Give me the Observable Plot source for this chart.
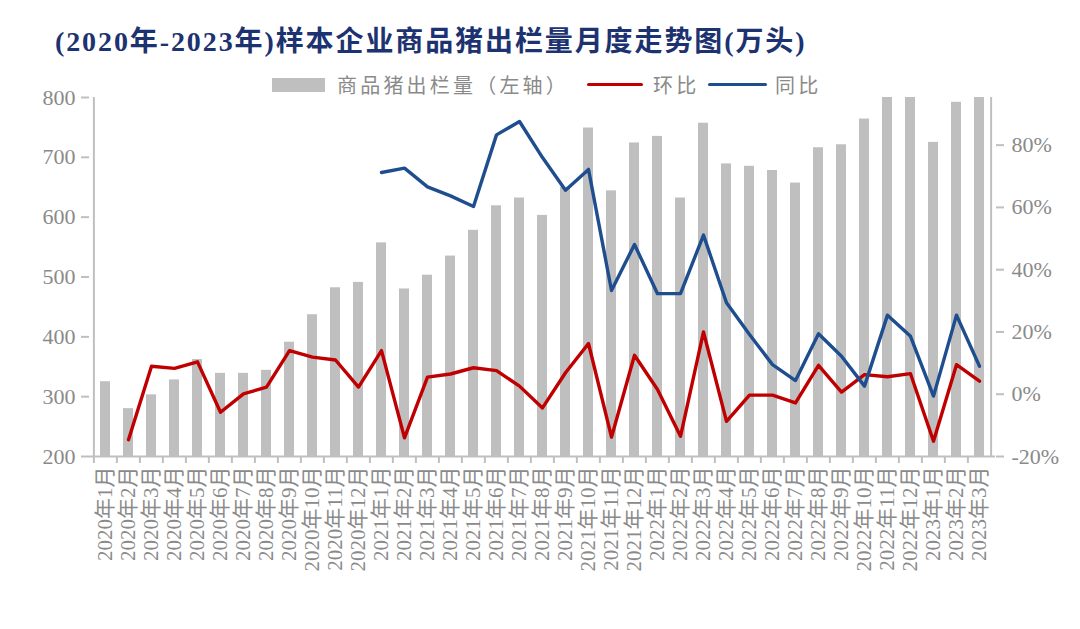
<!DOCTYPE html>
<html>
<head>
<meta charset="utf-8">
<script src="https://cdn.jsdelivr.net/npm/d3@7"></script>
<script src="https://cdn.jsdelivr.net/npm/@observablehq/plot@0.6"></script>
<style>
  html, body { margin: 0; padding: 0; background: #ffffff; }
  #wrap { position: relative; width: 1080px; height: 629px; overflow: hidden; }
  #header { position: relative; width: 1080px; height: 90px; }
  #title { position: absolute; left: 55px; top: 19px; white-space: nowrap;
    font-family: "Liberation Serif", "Times New Roman", "Noto Sans CJK SC", serif; font-weight: bold;
    font-size: 28px; letter-spacing: 1.9px; color: #1d3270; }
  #title .lat { font-family: "Liberation Serif", "DejaVu Serif", serif; }
  .lg { position: absolute; white-space: nowrap; font-family: "Noto Sans CJK SC", sans-serif;
    font-size: 20px; letter-spacing: 3.2px; color: #8a8a8a; top: 71px; line-height: 28px; }
  .sw { position: absolute; }
</style>
</head>
<body>
<div id="wrap">
  <div id="header">
    <div id="title"><span class="lat">(2020</span>年<span class="lat">-2023</span>年<span class="lat">)</span>样本企业商品猪出栏量月度走势图<span class="lat">(</span>万头<span class="lat">)</span></div>
    <div class="sw" style="left:272px;top:78px;width:53px;height:14px;background:#bfbfbf"></div>
    <div class="lg" style="left:337px">商品猪出栏量（左轴）</div>
    <div class="sw" style="left:587px;top:83px;width:56px;height:3px;background:#c00000;border-radius:2px"></div>
    <div class="lg" style="left:653px">环比</div>
    <div class="sw" style="left:708px;top:83px;width:59px;height:3px;background:#1f4e8f;border-radius:2px"></div>
    <div class="lg" style="left:775px">同比</div>
  </div>
  <div id="chart"></div>
</div>
<script>
// Categories (months)
const months = [
  "2020年1月","2020年2月","2020年3月","2020年4月","2020年5月","2020年6月","2020年7月","2020年8月","2020年9月","2020年10月","2020年11月","2020年12月",
  "2021年1月","2021年2月","2021年3月","2021年4月","2021年5月","2021年6月","2021年7月","2021年8月","2021年9月","2021年10月","2021年11月","2021年12月",
  "2022年1月","2022年2月","2022年3月","2022年4月","2022年5月","2022年6月","2022年7月","2022年8月","2022年9月","2022年10月","2022年11月","2022年12月",
  "2023年1月","2023年2月","2023年3月"
];
// 商品猪出栏量 (万头), left axis
const volume = [
  325, 280, 303, 328, 362, 339, 339, 344, 391, 437, 482, 491,
  557, 480, 503, 535, 578, 619, 632, 603, 650, 749, 644, 724,
  735, 632, 757, 689, 685, 678, 657, 716, 721, 764, 810, 805,
  725, 792, 815
];
// 环比 (%), right axis
const mom = [
  null, -14.6, 9.0, 8.3, 10.4, -5.8, 0.1, 2.3, 14.0, 11.9, 11.0, 2.3,
  14.0, -14.0, 5.5, 6.5, 8.5, 7.6, 2.6, -4.4, 6.9, 16.3, -13.8, 12.5,
  1.5, -13.5, 20.0, -8.7, -0.3, -0.3, -2.8, 9.3, 0.7, 6.3, 5.6, 6.6,
  -15.1, 9.5, 4.2
];
// 同比 (%), right axis
const yoy = [
  null, null, null, null, null, null, null, null, null, null, null, null,
  71.2, 72.6, 66.6, 63.7, 60.3, 83.3, 87.6, 76.0, 65.5, 72.2, 33.3, 48.1,
  32.3, 32.3, 51.1, 29.4, 19.2, 9.5, 4.4, 19.4, 12.2, 2.6, 25.4, 18.6,
  -0.6, 25.4, 9.0
];
const leftTicks = [200, 300, 400, 500, 600, 700, 800];
const rightTicks = [-20, 0, 20, 40, 60, 80];

const leftDomain = [200, 800];
const rightDomain = [-20, 95.3];
const toLeft = p => p == null ? NaN :
  leftDomain[0] + (p - rightDomain[0]) * (leftDomain[1] - leftDomain[0]) / (rightDomain[1] - rightDomain[0]);
const toRight = v => (v - leftDomain[0]) * (rightDomain[1] - rightDomain[0]) / (leftDomain[1] - leftDomain[0]) + rightDomain[0];

const data = months.map((m, i) => ({month: m, volume: volume[i], mom: mom[i], yoy: yoy[i]}));

const W = 1080, H = 539, mL = 89, mR = 85, mT = 7, mB = 173;
const step = (W - mL - mR) / months.length;
const axisGray = "#bfbfbf";
const textGray = "#8a8a8a";

const chart = Plot.plot({
  width: W, height: H,
  marginTop: mT, marginLeft: mL, marginRight: mR, marginBottom: mB,
  x: {domain: months, paddingInner: 0.57, paddingOuter: 0.285, axis: null, label: null},
  y: {domain: leftDomain, axis: null, label: null},
  style: {fontFamily: "'Liberation Serif', 'Noto Sans CJK SC', serif", fontSize: "22px", background: "white", overflow: "visible"},
  marks: [
    Plot.barY(data, {x: "month", y1: leftDomain[0], y2: "volume", fill: "#bfbfbf", clip: true}),
    Plot.axisY({anchor: "left", label: null, ticks: leftTicks, tickSize: 8, tickPadding: 6, stroke: axisGray, strokeWidth: 2, fill: textGray, fontSize: 22}),
    Plot.axisY({anchor: "right", label: null, ticks: rightTicks.map(toLeft), tickFormat: v => `${Math.round(toRight(v))}%`,
      tickSize: 8, tickPadding: 8, stroke: axisGray, strokeWidth: 2, fill: textGray, fontSize: 22}),
    Plot.axisX({label: null, tickSize: 0, tickRotate: -90, tickPadding: 10, fill: textGray, fontSize: 21}),
    Plot.axisX({label: null, tickSize: 7, tickFormat: () => "", dx: -step / 2, stroke: axisGray, strokeWidth: 2}),
    Plot.ruleY([leftDomain[0]], {stroke: axisGray, strokeWidth: 2}),
    Plot.ruleX([months[0]], {dx: -step / 2, stroke: axisGray, strokeWidth: 2}),
    Plot.ruleX([months[months.length - 1]], {dx: step / 2, stroke: axisGray, strokeWidth: 2}),
    Plot.line(data, {x: "month", y: d => toLeft(d.mom), stroke: "#c00000", strokeWidth: 3.4}),
    Plot.line(data, {x: "month", y: d => toLeft(d.yoy), stroke: "#1f4e8f", strokeWidth: 3.4})
  ]
});
document.getElementById("chart").appendChild(chart);
</script>
</body>
</html>
